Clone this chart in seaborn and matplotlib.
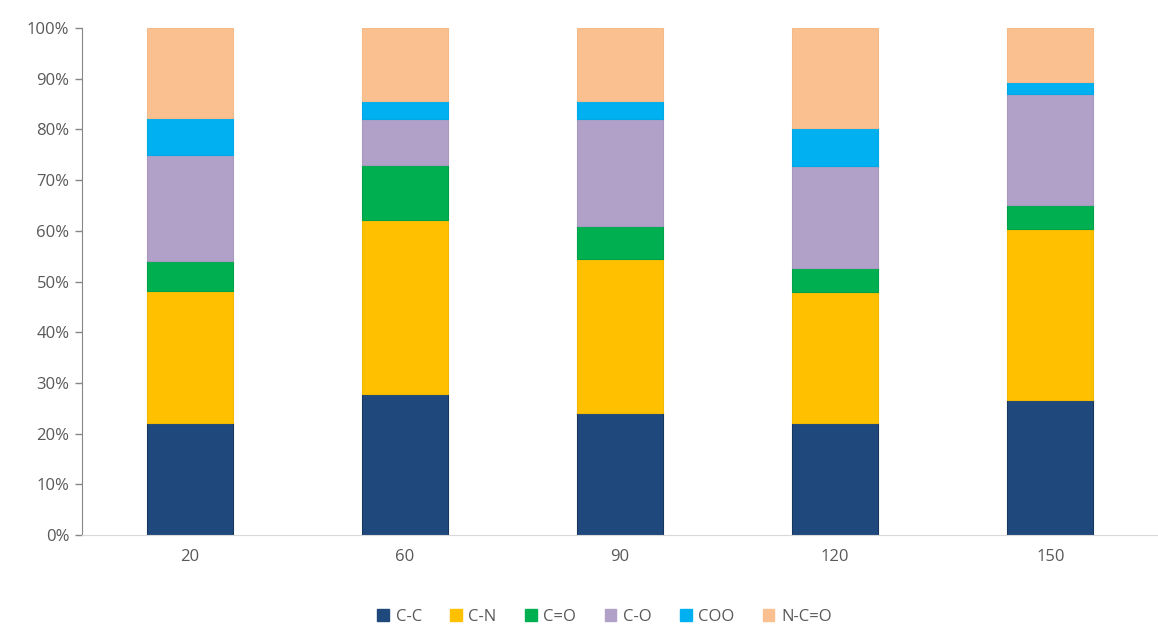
import matplotlib
matplotlib.use("Agg")
import matplotlib.pyplot as plt
import seaborn as sns
import numpy as np
from matplotlib.ticker import PercentFormatter, FixedLocator
from matplotlib.patches import Patch

samples = ["20", "60", "90", "120", "150"]
cc = [22.1, 27.8, 24.1, 22.1, 26.6]
cn = [26.1, 34.3, 30.3, 25.8, 33.7]
c_dbl_o = [5.8, 10.9, 6.5, 4.7, 4.7]
co = [21.0, 9.1, 21.2, 20.1, 21.9]
coo = [7.3, 3.5, 3.5, 7.5, 2.5]
ncoo = [17.7, 14.4, 14.4, 19.8, 10.6]

series = ["C-C", "C-N", "C=O", "C-O", "COO", "N-C=O"]
colors = ["#1F497D", "#FFC000", "#00B050", "#B1A0C7", "#00B0F0", "#FAC090"]
edges = ["#17375E", "#F2B800", "#00A048", "#A898BE", "#00A8E6", "#F5BA88"]

sns.set_style("white")
plt.rcParams["font.family"] = ["Open Sans", "DejaVu Sans"]

fig = plt.figure(figsize=(11.58, 6.28), dpi=100)
ax = fig.add_axes([82 / 1158, 1 - 535 / 628, 1076 / 1158, 507 / 628])

bottom = np.zeros(len(samples))
for name, vals, c, ec in zip(series, [cc, cn, c_dbl_o, co, coo, ncoo], colors, edges):
    sns.barplot(x=samples, y=vals, bottom=bottom, color=c, width=0.4, saturation=1,
                edgecolor=ec, linewidth=0.8, ax=ax, label=name)
    bottom = bottom + np.array(vals)

# category spacing ~217 px
ax.set_xlim(-0.5, -0.5 + 1076 / 217)
ax.set_ylim(0, 100)
ax.yaxis.set_major_locator(FixedLocator(np.arange(0, 101, 10)))
ax.yaxis.set_major_formatter(PercentFormatter(xmax=100, decimals=0))

ax.tick_params(axis="y", direction="out", length=5, width=1, color="#868686",
               labelsize=12, labelcolor="#595959", left=True, pad=4)
ax.tick_params(axis="x", which="major", length=0, labelsize=12,
               labelcolor="#595959", pad=10)
ax.set_xticks(np.arange(-0.5, 5, 1), minor=True)
ax.tick_params(axis="x", which="minor", direction="out", length=5,
               width=1, color="#D9D9D9")

for s in ["top", "right"]:
    ax.spines[s].set_visible(False)
ax.spines["left"].set_color("#868686")
ax.spines["bottom"].set_color("#D9D9D9")
ax.set_xlabel("")
ax.set_ylabel("")

handles = [Patch(facecolor=c, edgecolor=c) for c in colors]
fig.legend(handles, series, loc="center", bbox_to_anchor=(0.522, 1 - 617 / 628),
           ncol=6, frameon=False, fontsize=12, handlelength=0.7, handleheight=0.7,
           handletextpad=0.4, columnspacing=1.7, labelcolor="#595959")
if ax.get_legend() is not None:
    ax.get_legend().remove()

fig.savefig("out.png", dpi=100)
